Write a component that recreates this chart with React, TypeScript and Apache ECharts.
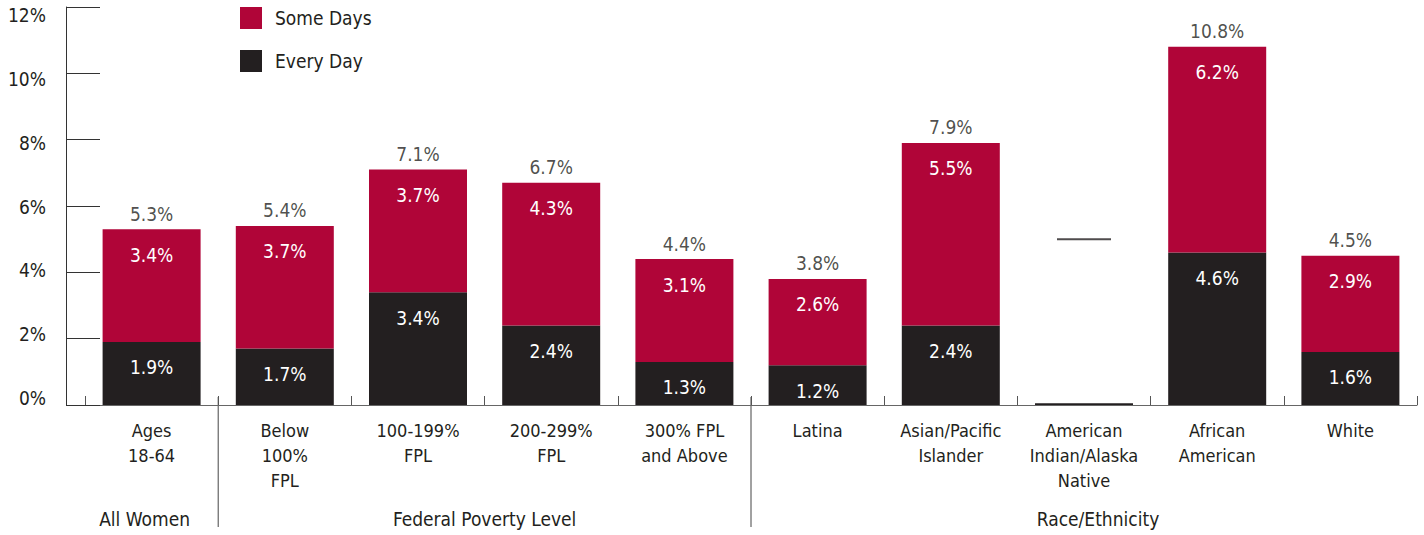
import React, { useEffect, useRef } from "react";
import * as echarts from "echarts";

const categories = [
  "Ages\n18-64",
  "Below\n100%\nFPL",
  "100-199%\nFPL",
  "200-299%\nFPL",
  "300% FPL\nand Above",
  "Latina",
  "Asian/Pacific\nIslander",
  "American\nIndian/Alaska\nNative",
  "African\nAmerican",
  "White",
];
const everyDay = [1.9, 1.7, 3.4, 2.4, 1.3, 1.2, 2.4, 0.05, 4.6, 1.6];
const someDays: (number | null)[] = [3.4, 3.7, 3.7, 4.3, 3.1, 2.6, 5.5, null, 6.2, 2.9];
const totals: (number | null)[] = [5.3, 5.4, 7.1, 6.7, 4.4, 3.8, 7.9, null, 10.8, 4.5];
// placeholder dash for data not available
const notAvailable: (number | null)[] = [null, null, null, null, null, null, null, 5.0, null, null];
const yTicks = [0, 2, 4, 6, 8, 10, 12];
const groups = [
  { name: "All Women", from: 0, to: 0 },
  { name: "Federal Poverty Level", from: 1, to: 4 },
  { name: "Race/Ethnicity", from: 5, to: 9 },
];
const groupLabelShift = [-7, 0, 14];

const FONT = '"Liberation Sans Narrow", "DejaVu Sans Condensed", "Roboto Condensed", sans-serif';
const RED = "#B00538";
const BLACK = "#231F20";
const TEXT = "#231F20";

export default function App() {
  const ref = useRef<HTMLDivElement>(null);
  useEffect(() => {
    if (!ref.current) return;
    const chart = echarts.init(ref.current, undefined, { renderer: "svg" });
    const fmt = (p: any) => (p.value == null || p.value < 0.1 ? "" : p.value.toFixed(1) + "%");
    chart.setOption({
      animation: false,
      textStyle: { fontFamily: FONT },
      legend: {
        orient: "vertical",
        left: 240,
        top: 7,
        padding: 0,
        itemWidth: 22,
        itemHeight: 22,
        itemGap: 21,
        icon: "rect",
        data: ["Some Days", "Every Day"],
        textStyle: { fontFamily: FONT, fontSize: 19, color: TEXT, padding: [6, 0, 0, 8] },
      },
      grid: [
        { left: 85, right: 7, top: 7, bottom: 130 },
        { left: 85, right: 7, top: 15, bottom: 137 },
      ],
      xAxis: [
        {
          type: "category",
          gridIndex: 0,
          data: categories,
          axisLine: { lineStyle: { color: "#666", width: 1 } },
          axisTick: { show: true, inside: true, length: 9, lineStyle: { color: "#555" } },
          axisLabel: {
            fontFamily: FONT,
            fontSize: 18,
            color: TEXT,
            lineHeight: 25,
            margin: 13,
            interval: 0,
          },
        },
        {
          type: "category",
          gridIndex: 1,
          data: categories,
          show: false,
        },
      ],
      yAxis: [
        {
          type: "value",
          gridIndex: 0,
          min: 0,
          max: 12,
          interval: 2,
          offset: 19,
          axisLine: { show: true, lineStyle: { color: "#333", width: 1 } },
          axisTick: { show: true, inside: true, length: 34, lineStyle: { color: "#333" } },
          splitLine: { show: false },
          axisLabel: { show: false },
        },
        {
          type: "value",
          gridIndex: 1,
          min: 0,
          max: 12,
          interval: 2,
          offset: 19,
          axisLine: { show: false },
          axisTick: { show: false },
          splitLine: { show: false },
          axisLabel: {
            fontFamily: FONT,
            fontSize: 19,
            color: TEXT,
            margin: 20,
            formatter: (v: number) => (yTicks.includes(v) ? v + "%" : ""),
          },
        },
      ],
      series: [
        {
          name: "Every Day",
          type: "bar",
          stack: "s",
          barWidth: 98,
          data: everyDay,
          itemStyle: { color: BLACK },
          label: {
            show: true,
            position: "insideTop",
            distance: 16,
            color: "#fff",
            fontFamily: FONT,
            fontSize: 19,
            formatter: fmt,
          },
        },
        {
          name: "Some Days",
          type: "bar",
          stack: "s",
          barWidth: 98,
          data: someDays,
          itemStyle: { color: RED },
          label: {
            show: true,
            position: "insideTop",
            distance: 16,
            color: "#fff",
            fontFamily: FONT,
            fontSize: 19,
            formatter: fmt,
          },
        },
        {
          name: "Total",
          type: "scatter",
          data: totals,
          symbolSize: 0,
          label: {
            show: true,
            position: "top",
            distance: 6,
            color: TEXT,
            fontFamily: FONT,
            fontSize: 19,
            formatter: fmt,
          },
        },
        {
          name: "N/A",
          type: "scatter",
          data: notAvailable,
          symbol: "rect",
          symbolSize: [54, 2],
          itemStyle: { color: BLACK },
        },
      ],
    });

    const cx = (i: number) => chart.convertToPixel({ xAxisIndex: 0 }, i) as number;
    const step = cx(1) - cx(0);
    const graphics: any[] = [];
    groups.forEach((g, gi) => {
      const left = cx(g.from) - step / 2;
      const right = cx(g.to) + step / 2;
      graphics.push({
        type: "text",
        x: (left + right) / 2 + groupLabelShift[gi],
        y: 519,
        style: {
          text: g.name,
          fontFamily: FONT,
          fontSize: 19,
          fill: TEXT,
          align: "center",
          verticalAlign: "middle",
        },
      });
      if (gi > 0) {
        graphics.push({
          type: "line",
          shape: { x1: left, y1: 397, x2: left, y2: 527 },
          style: { stroke: "#444", lineWidth: 1 },
        });
      }
    });
    chart.setOption({ graphic: graphics });

    return () => chart.dispose();
  }, []);
  return (
    <div
      ref={ref}
      style={{ position: "fixed", left: 0, top: 0, width: 1424, height: 535, background: "#fff" }}
    />
  );
}
